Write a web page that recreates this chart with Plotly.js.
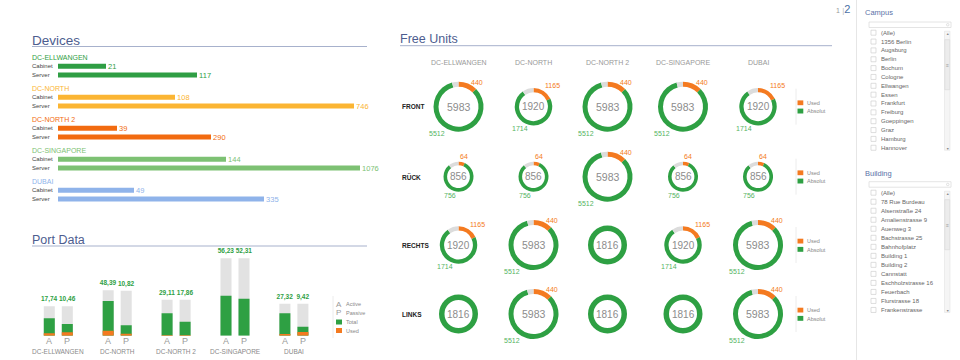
<!DOCTYPE html>
<html><head><meta charset="utf-8">
<script src="https://cdn.plot.ly/plotly-3.0.1.min.js"></script>
<style>html,body{margin:0;padding:0;background:#fff;}#chart{width:960px;height:360px;}</style>
</head><body><div id="chart"></div>
<script>
// ---------------- DATA ----------------
const groups = ['DC-ELLWANGEN','DC-NORTH','DC-NORTH 2','DC-SINGAPORE','DUBAI'];
const deviceKinds = ['Cabinet','Server'];
const deviceCabinet = [21,108,39,144,49];
const deviceServer = [117,746,290,1076,335];
// bar lengths as drawn in the reference (mock-up, not proportional to the labels)
const deviceCabinetBar = [48,117,59,168,76];
const deviceServerBar = [139,296,153,302,206];

const portKinds = ['A','P'];
const portActiveLabel = ['17,74','48,39','29,11','56,23','27,32'];
const portPassiveLabel = ['10,46','10,82','17,86','52,31','9,42'];
const portActiveCapacity = [29.4,45.4,36,77.4,32];
const portPassiveCapacity = [29.4,45,36,77.4,32];
const portActiveTotal = [17.4,34.7,22.4,40,22.4];
const portPassiveTotal = [11.7,10.4,14,37,9];
const portActiveUsed = [2.4,5,0.6,0,1.7];
const portPassiveUsed = [3.4,2,0.6,0,3.7];
const portLegend = ['Active','Passive','Total','Used'];

const unitRows = ['FRONT','RÜCK','RECHTS','LINKS'];
const ringTotal = [5983,1920,856,1816];
const ringUsed = [440,1165,64,null];
const ringAbsolut = [5512,1714,756,null];
const ringUsedArc = [45,65,25,0];   // share of the ring, degrees
const ringGapArc = [15,35,40,0];
const unitGrid = [[0,1,0,0,1],[2,2,0,2,2],[1,0,3,1,0],[3,0,3,3,0]];
const unitLegend = ['Used','Absolut'];

const campusItems = ['(Alle)','1356 Berlin','Augsburg','Berlin','Bochum','Cologne','Ellwangen','Essen','Frankfurt','Freiburg','Goeppingen','Graz','Hamburg','Hannover'];
const buildingItems = ['(Alle)','78 Rue Burdeau','Alsenstraße 24','Amalienstrasse 9','Auenweg 3','Bachstrasse 25','Bahnhofplatz','Building 1','Building 2','Cannstatt','Eschholzstrasse 16','Feuerbach','Flurstrasse 18','Frankenstrasse'];

// ---------------- STYLE / LAYOUT ----------------
const W=960,H=360;
const px=x=>x/W, py=y=>1-y/H;
const FONT='Liberation Sans, Arial, sans-serif';
const devColors=['#2f9e44','#fbb533','#f26b10','#7dc173','#8fb3ea'];
const GREEN='#2ea043', ORANGE='#f47a20', GRAY='#e2e2e2';
const traces=[], annotations=[], shapes=[];
function txt(x,y,text,size,color,opts){
  annotations.push(Object.assign({xref:'paper',yref:'paper',x:px(x),y:py(y),text:text,showarrow:false,
    font:{family:FONT,size:size,color:color},xanchor:'center',yanchor:'middle',borderpad:0},opts||{}));
}
function rect(x0,y0,x1,y1,fill,line,lw){
  shapes.push({type:'rect',xref:'paper',yref:'paper',x0:px(x0),x1:px(x1),y0:py(y1),y1:py(y0),
    fillcolor:fill,line:{color:line||fill,width:lw===undefined?0:lw},layer:'above'});
}
function hline(x0,x1,y,color,w){shapes.push({type:'line',xref:'paper',yref:'paper',x0:px(x0),x1:px(x1),y0:py(y),y1:py(y),line:{color:color,width:w||1}});}
function vline(x,y0,y1,color,w){shapes.push({type:'line',xref:'paper',yref:'paper',x0:px(x),x1:px(x),y0:py(y0),y1:py(y1),line:{color:color,width:w||1}});}

const TITLE='#4d5d8f', RULE='#a7b1cc';

// ---------- Devices ----------
txt(31,40,'Devices',13.5,TITLE,{xanchor:'left'});
hline(32,367,46.5,RULE,1);
const devX=[],devY=[],devText=[],devCol=[];
groups.forEach((g,i)=>{
  const base=i*31;
  txt(31,57.7+base,g,7,devColors[i],{xanchor:'left'});
  [deviceCabinetBar[i],deviceServerBar[i]].forEach((len,k)=>{
    const off=k?17.4:8.6;
    devX.push(len); devY.push(base+off);
    devText.push(String(k?deviceServer[i]:deviceCabinet[i])); devCol.push(devColors[i]);
    txt(31,57.7+base+off,deviceKinds[k],6,'#444',{xanchor:'left'});
  });
});
traces.push({type:'bar',orientation:'h',x:devX,y:devY,width:5,marker:{color:devCol,line:{width:0}},
  text:devText,texttemplate:'\u00a0%{text}',textposition:'outside',textfont:{family:FONT,size:7.5,color:devCol},constraintext:'none',
  cliponaxis:false,hoverinfo:'none',showlegend:false,xaxis:'x',yaxis:'y'});

// ---------- Port Data ----------
txt(31,239.5,'Port Data',12.5,TITLE,{xanchor:'left'});
hline(32,367,246,RULE,1);
const PG=58.9, P0=58.3;
const pX=[],pCap=[],pTot=[],pUsed=[],pLab=[];
groups.forEach((g,i)=>{
  [-1,1].forEach((s,k)=>{
    const xv=i+s*0.153;
    pX.push(xv);
    pCap.push(k?portPassiveCapacity[i]:portActiveCapacity[i]);
    pTot.push(k?portPassiveTotal[i]:portActiveTotal[i]);
    pUsed.push(k?portPassiveUsed[i]:portActiveUsed[i]);
    pLab.push(k?portPassiveLabel[i]:portActiveLabel[i]);
    txt(P0+PG*xv,340.5,portKinds[k],9,'#9a9a9a');
  });
  txt(P0+PG*i,351.5,g,6.5,'#8a8a8a');
});
const pcommon={type:'bar',x:pX,width:0.187,xaxis:'x2',yaxis:'y2',hoverinfo:'none',showlegend:false,cliponaxis:false};
traces.push(Object.assign({},pcommon,{y:pCap,marker:{color:GRAY},text:pLab,texttemplate:'<b>%{text}</b>',
  textposition:'outside',constraintext:'none',textfont:{family:FONT,size:6.5,color:'#2ea043'}}));
traces.push(Object.assign({},pcommon,{y:pTot,marker:{color:GREEN}}));
traces.push(Object.assign({},pcommon,{y:pUsed,marker:{color:ORANGE}}));
// legend
vline(333,296,338,'#ececec',1);
txt(338.5,304,'A',8,'#9a9a9a'); txt(338.5,312.7,'P',8,'#9a9a9a');
rect(336,319.5,342,324.5,GREEN); rect(336,328,342,333,ORANGE);
[304,312.7,322,330.5].forEach((y,i)=>txt(345,y,portLegend[i],5.5,'#888',{xanchor:'left'}));

// ---------- Free Units ----------
txt(399,39,'Free Units',12.5,TITLE,{xanchor:'left'});
hline(400,832,45.7,RULE,1);
const colX=[458.5,533.5,607.5,683,758], rowY=[106.7,176.7,245,314];
const ringRadius=[25,18.7,15,19.5], ringWidth=[5,4.3,3.6,5.5];
const usedOff=[[18.7,-24.4],[19,-21],[5.3,-20]], absOff=[[-21.3,26.6],[-13.7,21.3],[-9,18.3]];
groups.forEach((g,c)=>txt(colX[c],62.7,g,7,'#999'));
unitRows.forEach((r,ri)=>{
  const cy=rowY[ri];
  txt(401,cy,'<b>'+r+'</b>',6.5,'#222',{xanchor:'left'});
  unitGrid[ri].forEach((t,ci)=>{
    const cx=colX[ci], R=ringRadius[t];
    const vals=[ringUsedArc[t],360-ringUsedArc[t]-ringGapArc[t],ringGapArc[t]];
    traces.push({type:'pie',values:vals,labels:['Used','Absolut','Rest'],sort:false,direction:'clockwise',rotation:0,
      hole:1-ringWidth[t]/R,marker:{colors:[ORANGE,GREEN,'#dcdcdc'],line:{width:0}},textinfo:'none',hoverinfo:'none',
      showlegend:false,domain:{x:[px(cx-R),px(cx+R)],y:[py(cy+R),py(cy-R)]}});
    txt(cx,cy,String(ringTotal[t]),t===0?10.5:10,'#8c8c8c');
    if(ringUsed[t]!==null){
      txt(cx+usedOff[t][0],cy+usedOff[t][1],String(ringUsed[t]),7,ORANGE);
      txt(cx+absOff[t][0],cy+absOff[t][1],String(ringAbsolut[t]),7,'#55b35f');
    }
  });
  vline(796,cy-18,cy+18,'#ececec',1);
  rect(797.5,cy-6.3,803.3,cy-1.5,ORANGE); rect(797.5,cy+1.9,803.3,cy+6.8,GREEN);
  txt(806,cy-3.8,unitLegend[0],5.5,'#888',{xanchor:'left'});
  txt(806,cy+4.5,unitLegend[1],5.5,'#888',{xanchor:'left'});
});

// ---------- pager + sidebar ----------
txt(843,8.5,'<span style="color:#999;font-size:7px">1</span><span style="color:#bbb;font-size:8px"> |</span><span style="color:#4a6fa5;font-size:11px">2</span>',9,'#999');
vline(856.5,0,360,'#e6e6e6',1);
function listPanel(title,items,yTitle,ySearch,yFirst,step){
  txt(864,yTitle,title,7.5,'#5b72a8',{xanchor:'left'});
  rect(869,ySearch,951,ySearch+5.5,'#ffffff','#dddddd',0.8);
  shapes.push({type:'circle',xref:'paper',yref:'paper',x0:px(946.5),x1:px(949),y0:py(ySearch+4),y1:py(ySearch+1.5),line:{color:'#cfcfcf',width:0.6}});
  items.forEach((it,i)=>{
    const y=yFirst+i*step;
    rect(871,y-2.5,876,y+2.5,'#ffffff','#d0d0d0',0.7);
    txt(879.5,y,it,6,'#666',{xanchor:'left'});
  });
  const yEnd=yFirst+(items.length-1)*step;
  rect(944.5,yFirst-1.5,950,yEnd+2.5,'#f5f5f5','#e3e3e3',0.6);
  rect(944.8,yFirst+7,949.7,yFirst+57,'#ececec','#d6d6d6',0.6);
  txt(947.3,yFirst+0.8,'▲',3.5,'#888'); txt(947.3,yEnd+0.8,'▼',3.5,'#888');
  txt(947.3,yFirst+32,'≡',5,'#999');
}
listPanel('Campus',campusItems,13,22,32.7,8.85);
listPanel('Building',buildingItems,173.3,181.7,192.7,9.02);

const layout={width:W,height:H,margin:{l:0,r:0,t:0,b:0},paper_bgcolor:'#fff',plot_bgcolor:'rgba(0,0,0,0)',
  barmode:'overlay',showlegend:false,font:{family:FONT},
  xaxis:{domain:[px(58),px(368)],range:[0,310],visible:false,fixedrange:true},
  yaxis:{domain:[py(210),py(50)],range:[152.3,-7.7],visible:false,fixedrange:true},
  xaxis2:{domain:[px(30),px(330)],range:[(30-P0)/PG,(330-P0)/PG],visible:false,anchor:'y2',fixedrange:true},
  yaxis2:{domain:[py(335.7),py(255.7)],range:[0,80],visible:false,anchor:'x2',fixedrange:true},
  annotations:annotations,shapes:shapes};
Plotly.newPlot('chart',traces,layout,{staticPlot:true,displayModeBar:false});
</script></body></html>
